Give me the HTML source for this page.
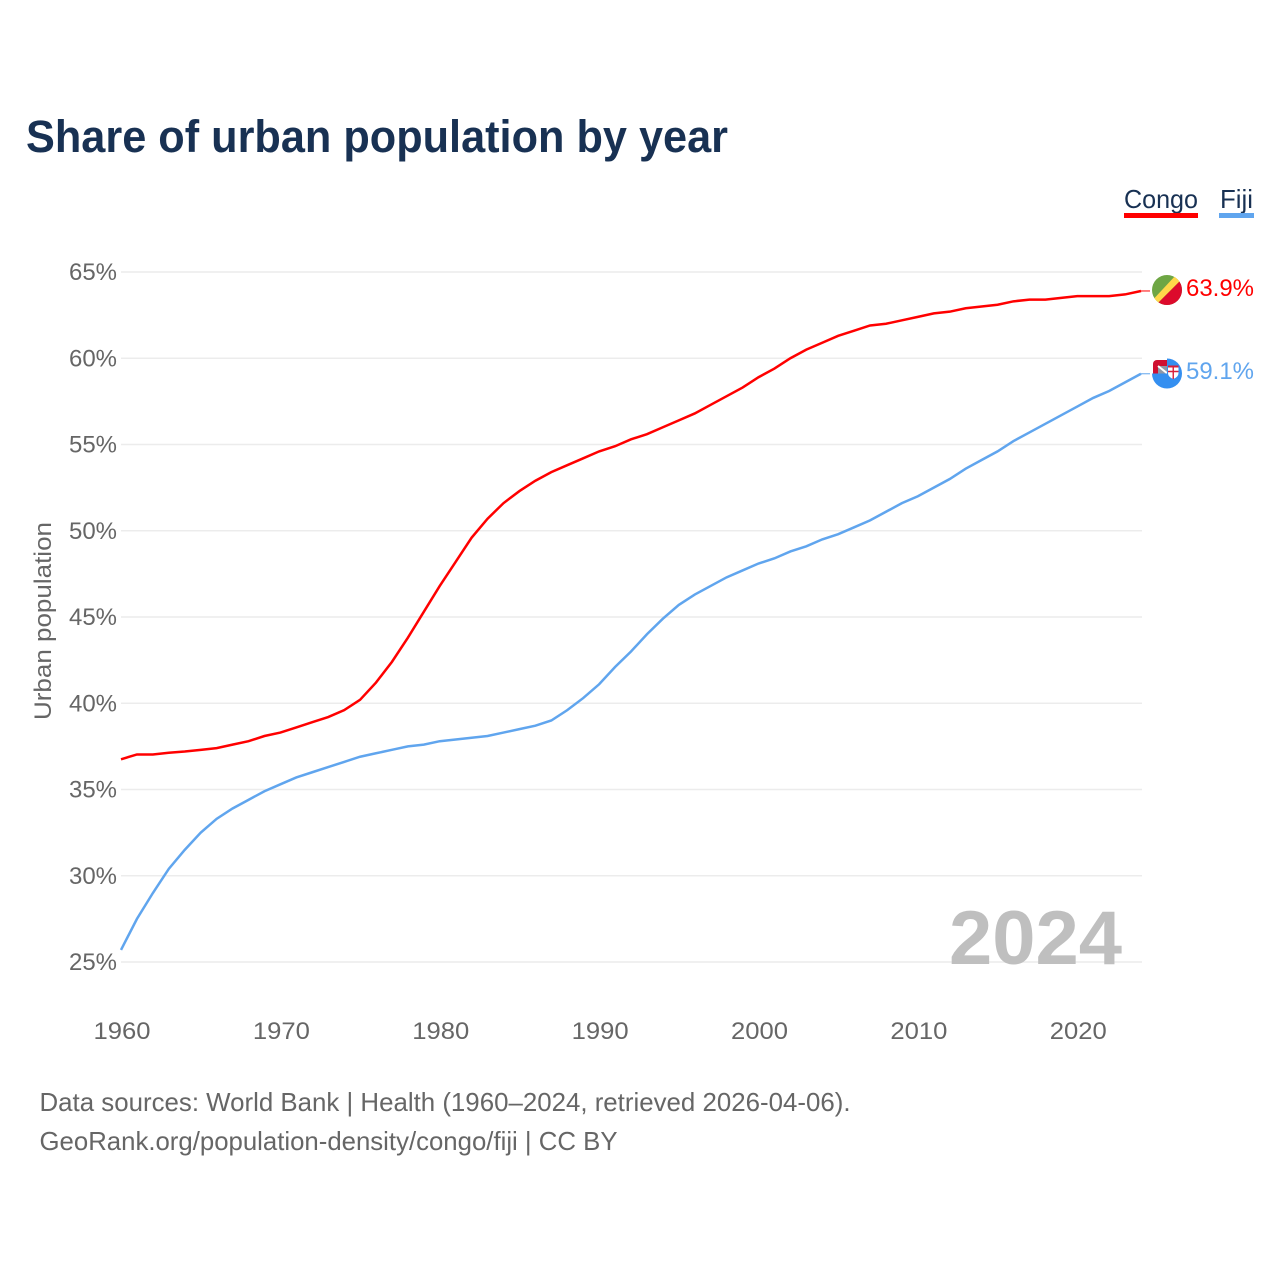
<!DOCTYPE html>
<html lang="en">
<head>
<meta charset="utf-8">
<title>Share of urban population by year</title>
<style>
html,body{margin:0;padding:0;background:#fff;}
svg{display:block;}
text{font-family:"Liberation Sans",sans-serif;}
</style>
</head>
<body>
<svg id="chart" xmlns="http://www.w3.org/2000/svg" width="1280" height="1280" viewBox="0 0 1280 1280">
  <defs>
    <clipPath id="clip-congo"><circle cx="1167" cy="290" r="15"/></clipPath>
    <clipPath id="clip-fiji-flag"><path d="M1153 373.500V364a4 4 0 0 1 4-4h10v13.500z"/></clipPath>
  </defs>
  <rect width="1280" height="1280" fill="#fff"/>
  <text x="26" y="152" font-size="45" font-weight="700" fill="#183153" textLength="702" lengthAdjust="spacingAndGlyphs">Share of urban population by year</text>

  <g>
    <g>
      <text x="1124" y="208" font-size="26" fill="#183153" textLength="74" lengthAdjust="spacingAndGlyphs">Congo</text>
      <rect x="1124" y="213" width="74" height="5" fill="#ff0000"/>
    </g>
    <g>
      <text x="1220" y="208" font-size="26" fill="#183153" textLength="33" lengthAdjust="spacingAndGlyphs">Fiji</text>
      <rect x="1219" y="213" width="35" height="5" fill="#60a5ee"/>
    </g>
  </g>

  <g id="grid"></g>
  <g id="y-ticks"></g>
  <g id="x-ticks"></g>
  <text transform="translate(51 621) rotate(-90)" text-anchor="middle" font-size="24" fill="#666" textLength="198" lengthAdjust="spacingAndGlyphs">Urban population</text>

  <text id="year-watermark" x="949" y="964" font-size="76" font-weight="700" fill="#bfbfbf" textLength="173" lengthAdjust="spacingAndGlyphs">2024</text>

  <g id="series"></g>

  <g clip-path="url(#clip-congo)">
    <rect x="1152" y="275" width="30" height="30" fill="#6ea644"/>
    <path d="M1176 275h6v4l-26 26h-8z" fill="#ffd84a"/>
    <path d="M1182 279v26h-26z" fill="#dc0a2c"/>
  </g>
  <text id="value-congo" x="1186" y="296" font-size="24" fill="#ff0000" textLength="68" lengthAdjust="spacingAndGlyphs">63.9%</text>

  <g>
    <circle cx="1167" cy="373.500" r="15" fill="#348ff0"/>
    <rect x="1150" y="357" width="17" height="16.500" fill="#fff"/>
    <g clip-path="url(#clip-fiji-flag)">
      <rect x="1153" y="360" width="14" height="14" fill="#cf1031"/>
      <rect x="1158" y="366" width="10" height="8" fill="#8f97a6"/>
      <path d="M1158 366l10 8" stroke="#fff" stroke-width="2"/>
    </g>
    <path d="M1168 366h10.500v7q0 4-5.250 6q-5.250-2-5.250-6z" fill="#fff"/>
    <path d="M1173.250 366v13M1168 371.500h10.500" stroke="#d8203a" stroke-width="1.400"/>
    <rect x="1168" y="365.500" width="10.500" height="2" fill="#d8203a"/>
  </g>
  <text id="value-fiji" x="1186" y="379" font-size="24" fill="#60a5ee" textLength="68" lengthAdjust="spacingAndGlyphs">59.1%</text>

  <text x="39.500" y="1111" font-size="26" fill="#666" textLength="811" lengthAdjust="spacingAndGlyphs">Data sources: World Bank | Health (1960–2024, retrieved 2026-04-06).</text>
  <a><text x="39.500" y="1150" font-size="26" fill="#666" textLength="578" lengthAdjust="spacingAndGlyphs">GeoRank.org/population-density/congo/fiji | CC BY</text></a>
</svg>
<script>
const startYear = 1960;
const yTickValues = [25, 30, 35, 40, 45, 50, 55, 60, 65];
const xTickYears = [1960, 1970, 1980, 1990, 2000, 2010, 2020];
const congoValues = [36.75,37.03,37.03,37.13,37.2,37.3,37.4,37.6,37.8,38.1,38.3,38.6,38.9,39.2,39.6,40.2,41.2,42.4,43.8,45.3,46.8,48.2,49.6,50.7,51.6,52.3,52.9,53.4,53.8,54.2,54.6,54.9,55.3,55.6,56.0,56.4,56.8,57.3,57.8,58.3,58.9,59.4,60.0,60.5,60.9,61.3,61.6,61.9,62.0,62.2,62.4,62.6,62.7,62.9,63.0,63.1,63.3,63.4,63.4,63.5,63.6,63.6,63.6,63.7,63.9];
const fijiValues = [25.7,27.5,29.0,30.4,31.5,32.5,33.3,33.9,34.4,34.9,35.3,35.7,36.0,36.3,36.6,36.9,37.1,37.3,37.5,37.6,37.8,37.9,38.0,38.1,38.3,38.5,38.7,39.0,39.6,40.3,41.1,42.1,43.0,44.0,44.9,45.7,46.3,46.8,47.3,47.7,48.1,48.4,48.8,49.1,49.5,49.8,50.2,50.6,51.1,51.6,52.0,52.5,53.0,53.6,54.1,54.6,55.2,55.7,56.2,56.7,57.2,57.7,58.1,58.6,59.1];

const NS = 'http://www.w3.org/2000/svg';
function xScale(year) { return 121 + (year - 1960) * (1141 - 121) / 64; }
function yScale(v) { return 962 - (v - 25) * (962 - 272) / 40; }

const gridGroup = document.getElementById('grid');
const yGroup = document.getElementById('y-ticks');
const xGroup = document.getElementById('x-ticks');
const seriesGroup = document.getElementById('series');

yTickValues.forEach(function (v) {
  const line = document.createElementNS(NS, 'line');
  
  
  line.setAttribute('x1', 121);
  line.setAttribute('x2', 1142);
  line.setAttribute('y1', yScale(v));
  line.setAttribute('y2', yScale(v));
  line.setAttribute('stroke', '#ececec');
  line.setAttribute('stroke-width', '1.5');
  gridGroup.appendChild(line);

  const label = document.createElementNS(NS, 'text');
  
  
  label.setAttribute('x', 117);
  label.setAttribute('y', yScale(v) + 8);
  label.setAttribute('text-anchor', 'end');
  label.setAttribute('font-size', '24');
  label.setAttribute('fill', '#666');
  label.setAttribute('textLength', '48');
  label.setAttribute('lengthAdjust', 'spacingAndGlyphs');
  label.textContent = v + '%';
  yGroup.appendChild(label);
});

xTickYears.forEach(function (year) {
  const label = document.createElementNS(NS, 'text');
  
  
  label.setAttribute('x', xScale(year) + 1);
  label.setAttribute('y', 1039);
  label.setAttribute('text-anchor', 'middle');
  label.setAttribute('font-size', '24');
  label.setAttribute('fill', '#666');
  label.setAttribute('textLength', '57');
  label.setAttribute('lengthAdjust', 'spacingAndGlyphs');
  label.textContent = year;
  xGroup.appendChild(label);
});

function pathFor(values) {
  return values.map(function (v, i) {
    return (i ? 'L' : 'M') + xScale(startYear + i).toFixed(2) + ' ' + yScale(v).toFixed(2);
  }).join(' ');
}

const congoPath = document.createElementNS(NS, 'path');


congoPath.setAttribute('d', pathFor(congoValues));
congoPath.setAttribute('fill', 'none');
congoPath.setAttribute('stroke', '#ff0000');
congoPath.setAttribute('stroke-width', '2.5');
seriesGroup.appendChild(congoPath);

const fijiPath = document.createElementNS(NS, 'path');


fijiPath.setAttribute('d', pathFor(fijiValues));
fijiPath.setAttribute('fill', 'none');
fijiPath.setAttribute('stroke', '#60a5ee');
fijiPath.setAttribute('stroke-width', '2.5');
seriesGroup.appendChild(fijiPath);

const congoTail = document.createElementNS(NS, 'line');


congoTail.setAttribute('x1', xScale(2024));
congoTail.setAttribute('x2', 1150);
congoTail.setAttribute('y1', yScale(congoValues[congoValues.length - 1]));
congoTail.setAttribute('y2', yScale(congoValues[congoValues.length - 1]));
congoTail.setAttribute('stroke', '#ff0000');
congoTail.setAttribute('stroke-width', '1');
seriesGroup.appendChild(congoTail);

const fijiTail = document.createElementNS(NS, 'line');


fijiTail.setAttribute('x1', xScale(2024));
fijiTail.setAttribute('x2', 1150);
fijiTail.setAttribute('y1', yScale(fijiValues[fijiValues.length - 1]));
fijiTail.setAttribute('y2', yScale(fijiValues[fijiValues.length - 1]));
fijiTail.setAttribute('stroke', '#60a5ee');
fijiTail.setAttribute('stroke-width', '1');
seriesGroup.appendChild(fijiTail);
</script>
</body>
</html>
